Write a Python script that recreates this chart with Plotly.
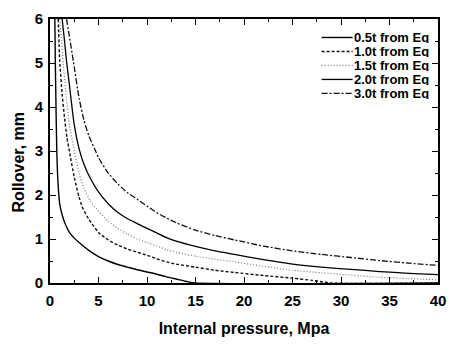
import plotly.graph_objects as go

# ---- data ----
series_names = ["0.5t from Eq", "1.0t from Eq", "1.5t from Eq", "2.0t from Eq", "3.0t from Eq"]

x_05 = [0.5, 0.55, 0.62, 0.7, 0.82, 1.0, 1.25, 1.5, 2.0, 2.5, 3.0, 4.0, 5.0, 6.0, 7.0, 8.0, 9.0, 10.0, 11, 12, 13, 14, 15, 40]
y_05 = [6.0, 5.0, 4.0, 3.0, 2.3, 1.8, 1.55, 1.38, 1.15, 1.02, 0.92, 0.74, 0.6, 0.5, 0.42, 0.36, 0.3, 0.25, 0.2, 0.14, 0.09, 0.04, 0.0, 0.0]

x_10 = [0.85, 1.0, 1.25, 1.5, 1.75, 2.0, 2.5, 3.0, 3.3, 4.0, 5.0, 6, 7, 8, 9, 10, 11, 12, 13, 15, 17, 19, 22, 25, 27, 29, 40]
y_10 = [6.0, 5.05, 4.3, 3.75, 3.3, 3.0, 2.4, 1.95, 1.74, 1.45, 1.15, 0.98, 0.86, 0.77, 0.7, 0.63, 0.55, 0.48, 0.43, 0.36, 0.29, 0.24, 0.17, 0.11, 0.06, 0.0, 0.0]

x_15 = [1.0, 1.2, 1.35, 1.6, 2.0, 2.5, 3.0, 3.5, 4.2, 5.0, 6, 7, 8, 9, 10, 11, 12, 13, 15, 17, 19, 22, 25, 28, 31, 34, 37, 40]
y_15 = [6.0, 5.5, 5.05, 4.4, 3.6, 3.0, 2.5, 2.15, 1.85, 1.63, 1.4, 1.24, 1.11, 1.0, 0.92, 0.84, 0.76, 0.7, 0.61, 0.54, 0.48, 0.38, 0.29, 0.23, 0.18, 0.13, 0.1, 0.07]

x_20 = [1.25, 1.5, 1.7, 2.0, 2.5, 3.0, 3.5, 4.0, 5.0, 6, 7, 8, 9, 10, 11, 12, 13, 15, 17, 19, 22, 25, 28, 31, 34, 37, 40]
y_20 = [6.0, 5.5, 5.05, 4.5, 3.6, 3.05, 2.7, 2.45, 2.07, 1.8, 1.6, 1.46, 1.35, 1.24, 1.14, 1.03, 0.95, 0.83, 0.73, 0.65, 0.53, 0.43, 0.36, 0.31, 0.26, 0.22, 0.19]

x_30 = [1.7, 2.0, 2.4, 3.0, 3.5, 4.0, 4.7, 5.0, 6, 7, 8, 9, 10, 11, 12, 13, 15, 17, 19, 22, 25, 28, 31, 34, 37, 40]
y_30 = [6.0, 5.6, 5.05, 4.2, 3.7, 3.35, 3.0, 2.85, 2.5, 2.25, 2.05, 1.9, 1.75, 1.6, 1.48, 1.37, 1.2, 1.08, 0.98, 0.84, 0.73, 0.65, 0.58, 0.51, 0.45, 0.40]

x_ticks = [0, 5, 10, 15, 20, 25, 30, 35, 40]
y_ticks = [0, 1, 2, 3, 4, 5, 6]

xs = [x_05, x_10, x_15, x_20, x_30]
ys = [y_05, y_10, y_15, y_20, y_30]
colors = ["#000000", "#111111", "#777777", "#000000", "#111111"]
dashes = ["solid", "3px,2px", "1px,2px", "solid", "6px,2px,2px,2px"]
widths = [1.4, 1.4, 1.2, 1.3, 1.3]

FONT = "Arial, 'Liberation Sans', sans-serif"

fig = go.Figure()
for name, x, y, c, d, w in zip(series_names, xs, ys, colors, dashes, widths):
    fig.add_trace(go.Scatter(x=x, y=y, mode="lines", name=name,
                             line=dict(color=c, dash=d, width=w, shape="spline", smoothing=0.6),
                             showlegend=False))

# manual legend (compact rows like the reference)
row_y = [0.930, 0.877, 0.824, 0.771, 0.718]
for i, (name, c, d, w) in enumerate(zip(series_names, colors, dashes, widths)):
    fig.add_shape(type="line", xref="paper", yref="paper",
                  x0=0.700, x1=0.780, y0=row_y[i], y1=row_y[i],
                  line=dict(color=c, dash=d, width=w))
    fig.add_annotation(xref="paper", yref="paper", x=0.782, y=row_y[i],
                       text="<b>%s</b>" % name, showarrow=False,
                       xanchor="left", yanchor="middle", height=12, borderpad=0,
                       font=dict(family=FONT, size=13, color="black"))

# y-axis title as rotated text (placed like the reference)
fig.add_annotation(xref="paper", yref="paper", x=-0.081, y=0.455,
                   text="<b>Rollover, mm</b>", textangle=-90, showarrow=False,
                   xanchor="center", yanchor="middle",
                   font=dict(family=FONT, size=16, color="black"))

axis_common = dict(
    showgrid=False, zeroline=False, showline=True, linecolor="black", linewidth=1.8,
    mirror="ticks", ticks="inside", ticklen=6, tickwidth=1.3, tickcolor="black",
    tickfont=dict(family=FONT, size=15, color="black"),
)

fig.update_layout(
    width=456, height=345, autosize=False,
    margin=dict(l=50, r=10, t=16, b=56),
    paper_bgcolor="white", plot_bgcolor="white",
    xaxis=dict(range=[0, 40], tickmode="array", tickvals=x_ticks,
               ticktext=["<b>%d</b>" % v for v in x_ticks], ticklabelstandoff=3,
               minor=dict(dtick=2.5, ticks="inside", ticklen=3, tickwidth=1, tickcolor="black"),
               title=dict(text="<b>Internal pressure, Mpa</b>",
                          font=dict(family=FONT, size=16, color="black"), standoff=15),
               **axis_common),
    yaxis=dict(range=[0, 6], tickmode="array", tickvals=y_ticks,
               ticktext=["<b>%d</b>" % v for v in y_ticks], ticklabelstandoff=2,
               minor=dict(dtick=0.5, ticks="inside", ticklen=3, tickwidth=1, tickcolor="black"),
               **axis_common),
)

fig.write_html("out.html", config={"displayModeBar": False, "responsive": False},
               post_script="document.body.style.margin='0px';")
